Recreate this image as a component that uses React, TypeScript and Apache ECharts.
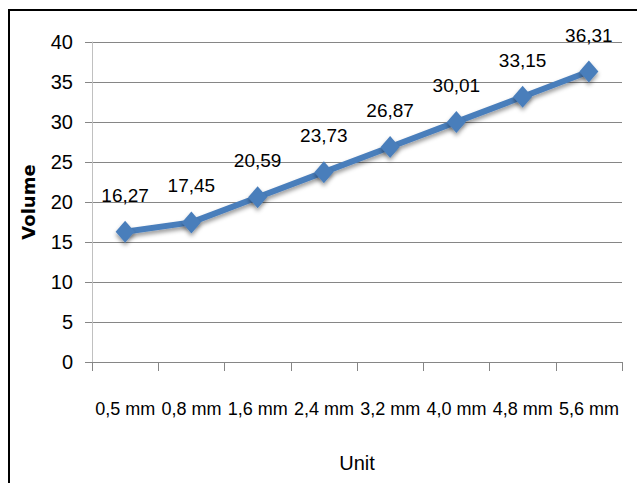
import React, { useEffect, useRef } from "react";
import * as echarts from "echarts";

const categories = ["0,5 mm", "0,8 mm", "1,6 mm", "2,4 mm", "3,2 mm", "4,0 mm", "4,8 mm", "5,6 mm"];
const volumes = [16.27, 17.45, 20.59, 23.73, 26.87, 30.01, 33.15, 36.31];
const yName = "Volume";
const xName = "Unit";

const NARROW = "'Liberation Sans', Arial, sans-serif";

export default function App() {
  const ref = useRef<HTMLDivElement>(null);
  useEffect(() => {
    if (!ref.current) return;
    const chart = echarts.init(ref.current, undefined, { renderer: "svg" });
    chart.setOption({
      animation: false,
      backgroundColor: "#ffffff",
      graphic: [
        {
          type: "rect",
          shape: { x: 9, y: 10, width: 700, height: 600 },
          style: { fill: "none", stroke: "#000", lineWidth: 2 },
          silent: true,
          z: 0,
        },
      ],
      grid: { left: 92, right: 15, top: 42, bottom: 121 },
      xAxis: {
        type: "category",
        data: categories,
        boundaryGap: true,
        name: xName,
        nameLocation: "middle",
        nameGap: 91,
        nameTextStyle: { fontFamily: NARROW, fontSize: 20, color: "#000" },
        axisLine: { show: true, lineStyle: { color: "#868686", width: 1 } },
        axisTick: { show: true, length: 9, interval: 0, lineStyle: { color: "#868686" } },
        axisLabel: { interval: 0, margin: 38, fontFamily: NARROW, fontSize: 18, color: "#000" },
      },
      yAxis: {
        type: "value",
        min: 0,
        max: 40,
        interval: 5,
        name: yName,
        nameLocation: "middle",
        nameGap: 55,
        nameTextStyle: { fontFamily: "'DejaVu Sans', sans-serif", fontWeight: "bold", fontSize: 18, color: "#000" },
        axisLine: { show: true, lineStyle: { color: "#c0c0c0", width: 1 } },
        axisTick: { show: true, length: 7, lineStyle: { color: "#868686" } },
        axisLabel: { margin: 19, fontFamily: NARROW, fontSize: 20, color: "#000" },
        splitLine: { show: true, lineStyle: { color: "#868686", width: 1 } },
      },
      series: [
        {
          type: "line",
          data: volumes,
          symbol: "diamond",
          symbolSize: [19, 22],
          itemStyle: { color: "#4a7ebb", shadowBlur: 4, shadowColor: "rgba(0,0,0,0.4)", shadowOffsetY: 3 },
          lineStyle: { color: "#4a7ebb", width: 6, shadowBlur: 4, shadowColor: "rgba(0,0,0,0.4)", shadowOffsetY: 3 },
          label: {
            show: true,
            position: "top",
            distance: 16,
            fontFamily: NARROW,
            fontSize: 19,
            color: "#000",
            formatter: (p: any) => p.value.toFixed(2).replace(".", ","),
          },
        },
      ],
    });
    return () => chart.dispose();
  }, []);
  return <div ref={ref} style={{ position: "fixed", left: 0, top: 0, width: 637, height: 483 }} />;
}
